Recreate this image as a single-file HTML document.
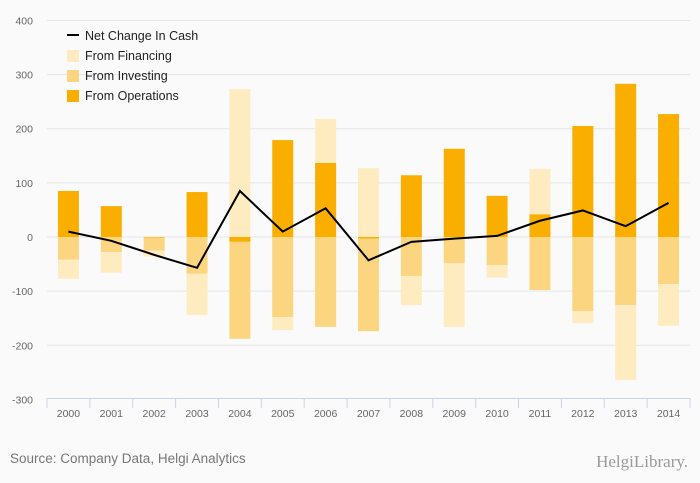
<!DOCTYPE html>
<html><head><meta charset="utf-8"><style>
body{margin:0;background:#fafafa;}
svg{display:block;font-family:"Liberation Sans",sans-serif;}
</style></head><body>
<svg id="chart" width="700" height="483" xmlns="http://www.w3.org/2000/svg">
<rect width="700" height="483" fill="#fafafa"/>
<g id="grid"></g><g id="bars"></g><g id="line"></g><g id="axes"></g>
<g>
 <line x1="67" y1="35" x2="79" y2="35" stroke="#000" stroke-width="2"/>
 <text x="85" y="40" font-size="12.5" fill="#222">Net Change In Cash</text>
 <rect x="67" y="50" width="12" height="12" fill="#feebc0"/>
 <text x="85" y="60" font-size="12.5" fill="#222">From Financing</text>
 <rect x="67" y="70" width="12" height="12" fill="#fbd580"/>
 <text x="85" y="80" font-size="12.5" fill="#222">From Investing</text>
 <rect x="67" y="90" width="12" height="12" fill="#f9ae00"/>
 <text x="85" y="100" font-size="12.5" fill="#222">From Operations</text>
</g>
<text x="10" y="463" font-size="13.5" fill="#777">Source: Company Data, Helgi Analytics</text>
<text x="688" y="467" font-size="17" fill="#999" text-anchor="end" font-family="Liberation Serif, serif">HelgiLibrary.</text>
</svg>
<script>
const categories=["2000","2001","2002","2003","2004","2005","2006","2007","2008","2009","2010","2011","2012","2013","2014"];
const operations=[85,57,-1,83,-9,179,137,-3,114,163,76,42,205,283,227];
const investing=[-42,-28,-24,-68,-179,-148,-166,-171,-72,-48,-52,-98,-137,-126,-87];
const financing=[-35,-38,-11,-76,273,-24,81,127,-54,-118,-23,84,-22,-138,-77];
const netChange=[10,-7,-33,-57,85,10,53,-43,-9,-3,2,30,49,20,63];
const yTicks=[400,300,200,100,0,-100,-200,-300];
const NS="http://www.w3.org/2000/svg";
const x0=47,x1=690,band=(x1-x0)/categories.length,barW=21;
function y(v){return 237-v*0.5414;}
function xc(i){return x0+band*(i+0.5);}
function mk(tag,attrs,parent){const e=document.createElementNS(NS,tag);for(const k in attrs)e.setAttribute(k,attrs[k]);document.getElementById(parent).appendChild(e);return e;}
yTicks.forEach(t=>{
 if(t!==-300){const l=mk('line',{x1:x0,x2:x1,y1:y(t),y2:y(t),stroke:'#e6e6e6','stroke-width':1},'grid');
 
 }
 const tx=mk('text',{x:33,y:y(t)+4,'font-size':10.5,fill:'#666','text-anchor':'end'},'axes');
 tx.textContent=t;
 
 
});
const ax=mk('line',{x1:x0,x2:x1,y1:398.5,y2:398.5,stroke:'#c8d5e8','stroke-width':1},'axes');


for(let i=0;i<=categories.length;i++){
 const tk=mk('line',{x1:x0+band*i,x2:x0+band*i,y1:398,y2:408,stroke:'#c8d5e8'},'axes');
 
 
}
categories.forEach((c,i)=>{
 const tx=mk('text',{x:xc(i),y:417,'font-size':10.5,fill:'#666','text-anchor':'middle'},'axes');
 tx.textContent=c;
 
 
 let pos=0,neg=0;
 [[operations,'#f9ae00','operations'],[investing,'#fbd580','investing'],[financing,'#feebc0','financing']].forEach(([arr,col,nm])=>{
  const v=arr[i];let a,b;
  if(v>=0){a=pos;b=pos+v;pos=b;}else{a=neg;b=neg+v;neg=b;}
  const top=Math.min(y(a),y(b)),h=Math.abs(y(a)-y(b));
  const r=mk('rect',{x:xc(i)-barW/2,y:top,width:barW,height:h,fill:col},'bars');
  
  
 });
});
const pts=netChange.map((v,i)=>xc(i)+','+y(v)).join(' ');
const pl=mk('polyline',{points:pts,fill:'none',stroke:'#000','stroke-width':2,'stroke-linejoin':'miter'},'line');


</script>
</body></html>
